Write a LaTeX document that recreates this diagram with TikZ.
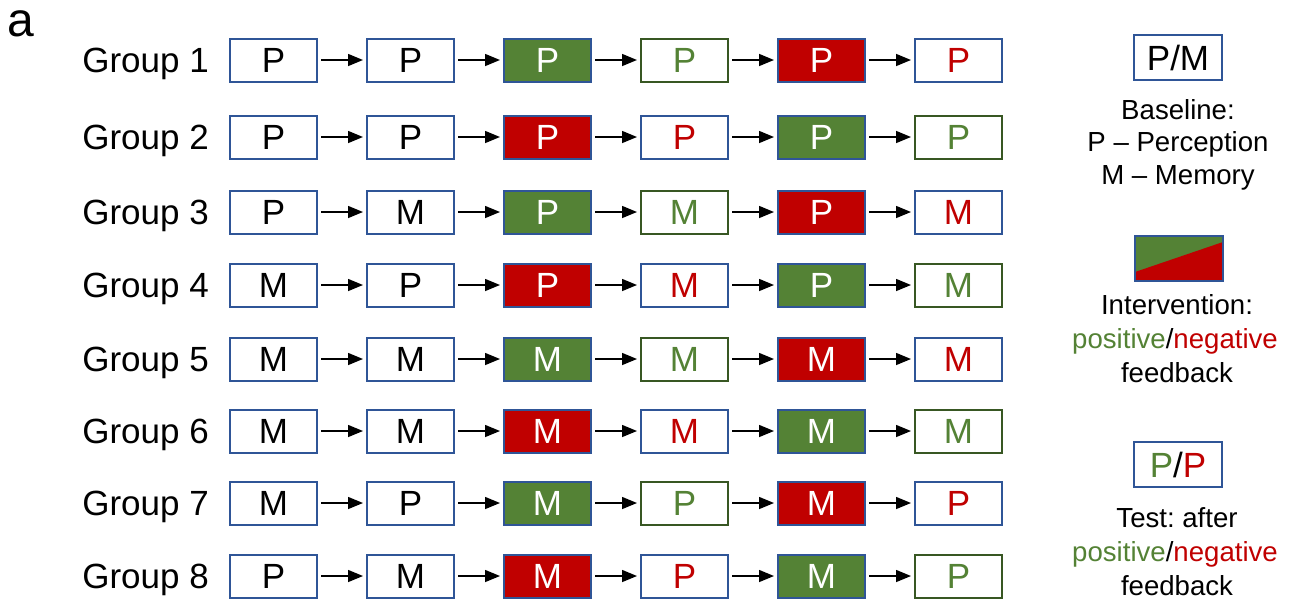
\documentclass[tikz,border=0pt]{standalone}
\usepackage{fontspec}
\setmainfont{Liberation Sans}
\usetikzlibrary{arrows.meta}
\frenchspacing
\definecolor{ivgreen}{HTML}{548235}
\definecolor{ivred}{HTML}{C00000}
\definecolor{edgeblue}{HTML}{2F5597}
\definecolor{edgegreen}{HTML}{385723}
% fill and edge colours keyed by feedback sign (g = positive, r = negative)
\colorlet{fillg}{ivgreen}
\colorlet{fillr}{ivred}
\colorlet{edgeg}{edgegreen}
\colorlet{edger}{edgeblue}

\begin{document}
\begin{tikzpicture}[x=1pt,y=-1pt,
  box/.style={draw=edgeblue, line width=2pt, fill=white,
    minimum width=87pt, minimum height=43pt, inner sep=0pt,
    font=\fontsize{35}{40}\selectfont},
  ivbox/.style={box, fill=fill#1, text=white},
  testbox/.style={box, draw=edge#1, text=fill#1},
  keybox/.style={box, minimum width=88pt, minimum height=45pt},
  flow/.style={-{Triangle[length=15pt,width=12pt]}, line width=1.5pt,
    shorten <=3pt, shorten >=3pt},
  grouplabel/.style={anchor=base east, inner sep=0pt,
    font=\fontsize{35}{40}\selectfont},
  legendtext/.style={anchor=base, inner sep=0pt,
    font=\fontsize{27.6}{33}\selectfont},
]
\useasboundingbox (0,0) rectangle (1292,600);

% panel letter
\node[anchor=base west, inner sep=0pt, font=\fontsize{48}{50}\selectfont]
  (panel) at (7,36) {a};

% one row per group: two baselines (\a, \b), then intervention (\i) and
% test (\t) twice, first with feedback \u, then with feedback \v
\foreach \r/\y/\a/\b/\i/\t/\u/\v in {
    1/60/P/P/P/P/g/r,  2/137/P/P/P/P/r/g,
    3/212/P/M/P/M/g/r, 4/285/M/P/P/M/r/g,
    5/359/M/M/M/M/g/r, 6/431/M/M/M/M/r/g,
    7/503/M/P/M/P/g/r, 8/576/P/M/M/P/r/g}{
  \node[grouplabel] (lab\r) at (209,\y+12.5) {Group \r};
  \node[box]        (n\r-1) at (273.5,\y) {\a};
  \node[box]        (n\r-2) at (410.5,\y) {\b};
  \node[ivbox=\u]   (n\r-3) at (547.5,\y) {\i};
  \node[testbox=\u] (n\r-4) at (684.5,\y) {\t};
  \node[ivbox=\v]   (n\r-5) at (821.5,\y) {\i};
  \node[testbox=\v] (n\r-6) at (958.5,\y) {\t};
  \foreach \c [count=\n from 2] in {1,...,5}
    \draw[flow] (n\r-\c) -- (n\r-\n);
}

% legend: baseline
\node[keybox] (pmkey) at (1178,57.5) {P/M};
\node[legendtext] (pm1) at (1178,119) {Baseline:};
\node[legendtext] (pm2) at (1178,151.5) {P -- Perception};
\node[legendtext] (pm3) at (1178,184) {M -- Memory};

% legend: intervention
\node[keybox, path picture={
    \fill[ivgreen] (path picture bounding box.south west)
      rectangle (path picture bounding box.north east);
    \fill[ivred] ([yshift=9pt]path picture bounding box.south west)
      -- ([yshift=-6pt]path picture bounding box.north east)
      |- (path picture bounding box.south west) -- cycle;
  }] (ivkey) at (1179,258.5) {};
\node[legendtext] (iv1) at (1177,314) {Intervention:};
\node[legendtext] (iv2) at (1175,348)
  {\textcolor{ivgreen}{positive}/\textcolor{ivred}{negative}};
\node[legendtext] (iv3) at (1177,382) {feedback};

% legend: test
\node[keybox] (tkey) at (1178,464.5)
  {\textcolor{ivgreen}{P}/\textcolor{ivred}{P}};
\node[legendtext] (t1) at (1177,527) {Test: after};
\node[legendtext] (t2) at (1175,561)
  {\textcolor{ivgreen}{positive}/\textcolor{ivred}{negative}};
\node[legendtext] (t3) at (1177,595) {feedback};
\end{tikzpicture}
\end{document}
